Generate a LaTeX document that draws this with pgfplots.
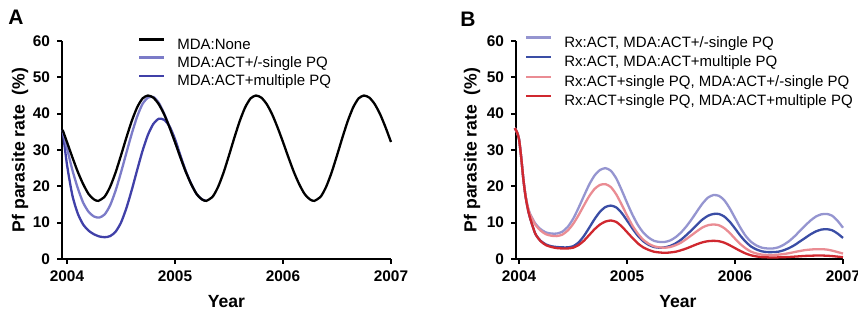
\documentclass[border=0pt]{standalone}
\usepackage{fontspec}
\setmainfont{Liberation Sans}
\usepackage{pgfplots}
\pgfplotsset{compat=1.18}
\definecolor{aLight}{HTML}{7B7BC8}
\definecolor{aDark}{HTML}{4040A8}
\definecolor{bLav}{HTML}{9595D0}
\definecolor{bBlue}{HTML}{3A4DA5}
\definecolor{bPink}{HTML}{EA8C93}
\definecolor{bRed}{HTML}{D0282F}
\pgfplotsset{gp/.style={
  scale only axis, axis lines*=left, axis line style={-, black, line width=0.9pt},
  xmax=2007, ymin=0, ymax=60,
  xtick={2004,2005,2006,2007}, xticklabels={2004,2005,2006,2007},
  ytick={0,10,...,60}, yticklabels={0,10,20,30,40,50,60},
  tick align=outside, major tick length=2.5pt,
  every tick/.style={black, line width=0.9pt},
  /pgf/number format/assume math mode=true,
  ticklabel style={font=\bfseries\fontsize{7.7}{8}\selectfont},
  label style={font=\bfseries\fontsize{8.8}{10}\selectfont},
  xlabel={Year}, ylabel={Pf parasite rate\ \ (\%)},
  clip=false, no markers,
  every axis plot/.append style={line width=1.15pt, smooth, tension=0.4},
  legend cell align=left,
  legend image code/.code={\draw[#1, line width=1.15pt] (0pt,2.6pt) -- (12.5pt,2.6pt);},
  legend style={draw=none, fill=none, inner sep=0pt, outer sep=0pt,
    font=\fontsize{7.5}{9}\selectfont,
    nodes={inner sep=0pt, text height=5.8pt, text depth=1.5pt},
    /tikz/every odd column/.style={column sep=6pt}},
}}
\begin{document}
\begin{tikzpicture}
\useasboundingbox (0,0) rectangle (429pt,157pt);
\node[font=\bfseries\fontsize{10.5}{12}\selectfont] at (8pt,148.5pt) {A};
\node[font=\bfseries\fontsize{10.5}{12}\selectfont] at (234pt,147.5pt) {B};
\begin{axis}[gp, at={(31pt,27.5pt)}, anchor=south west,
  width=164.5pt, height=109pt, xmin=2003.954,
  xlabel style={at={(axis description cs:0.5,-0.197)}, anchor=center},
  ylabel style={at={(axis description cs:-0.1277,0.5)}, anchor=center},
  legend style={at={(rel axis cs:0.231,1.0165)}, anchor=north west, row sep=1.75pt}]
\addlegendimage{black}\addlegendentry{MDA:None}
\addlegendimage{aLight}\addlegendentry{MDA:ACT+/-single PQ}
\addlegendimage{aDark}\addlegendentry{MDA:ACT+multiple PQ}
% MDA:ACT+multiple PQ
\addplot[aDark, forget plot] coordinates {(2003.96,35.5)(2004.00,26.0)(2004.05,17.5)(2004.10,12.5)(2004.15,9.5)(2004.20,7.8)(2004.25,6.8)(2004.30,6.2)(2004.35,6.0)(2004.40,6.3)(2004.45,7.5)(2004.50,10.0)(2004.55,14.0)(2004.60,19.0)(2004.65,24.5)(2004.70,29.8)(2004.75,34.2)(2004.80,37.2)(2004.85,38.6)(2004.90,38.3)(2004.95,36.5)(2005.00,33.0)(2005.05,28.5)(2005.10,24.2)(2005.15,20.7)(2005.20,17.9)(2005.25,16.4)(2005.29,16.0)};
% MDA:ACT+/-single PQ
\addplot[aLight, forget plot] coordinates {(2003.96,35.5)(2004.00,30.5)(2004.05,24.5)(2004.10,19.5)(2004.15,15.5)(2004.20,13.0)(2004.25,11.7)(2004.30,11.4)(2004.35,12.3)(2004.40,14.8)(2004.45,18.8)(2004.50,23.8)(2004.55,29.2)(2004.60,34.5)(2004.65,39.2)(2004.70,42.7)(2004.75,44.4)(2004.80,44.6)(2004.85,43.0)(2004.90,40.0)(2004.95,36.3)(2005.00,32.2)(2005.05,28.0)(2005.10,24.0)};
% MDA:None
\addplot[black, forget plot] coordinates {(2003.96,35.5)
(2004.00,32.2)(2004.05,28.0)(2004.10,24.0)(2004.15,20.6)(2004.20,17.9)(2004.25,16.4)(2004.29,16.0)(2004.35,17.2)(2004.40,19.9)(2004.45,23.8)(2004.50,28.5)(2004.55,33.4)(2004.60,38.0)(2004.65,41.75)(2004.70,44.2)(2004.75,45.0)(2004.80,44.4)(2004.85,42.6)(2004.90,39.8)(2004.95,36.2)
(2005.00,32.2)(2005.05,28.0)(2005.10,24.0)(2005.15,20.6)(2005.20,17.9)(2005.25,16.4)(2005.29,16.0)(2005.35,17.2)(2005.40,19.9)(2005.45,23.8)(2005.50,28.5)(2005.55,33.4)(2005.60,38.0)(2005.65,41.75)(2005.70,44.2)(2005.75,45.0)(2005.80,44.4)(2005.85,42.6)(2005.90,39.8)(2005.95,36.2)
(2006.00,32.2)(2006.05,28.0)(2006.10,24.0)(2006.15,20.6)(2006.20,17.9)(2006.25,16.4)(2006.29,16.0)(2006.35,17.2)(2006.40,19.9)(2006.45,23.8)(2006.50,28.5)(2006.55,33.4)(2006.60,38.0)(2006.65,41.75)(2006.70,44.2)(2006.75,45.0)(2006.80,44.4)(2006.85,42.6)(2006.90,39.8)(2006.95,36.2)
(2007.00,32.2)};
\end{axis}
\begin{axis}[gp, at={(258pt,27.5pt)}, anchor=south west,
  width=163.5pt, height=109pt, xmin=2003.972,
  xlabel style={at={(axis description cs:0.495,-0.197)}, anchor=center},
  ylabel style={at={(axis description cs:-0.1346,0.5)}, anchor=center},
  legend style={at={(rel axis cs:0.0275,1.0257)}, anchor=north west, row sep=2.5pt}]
\addplot[bLav] coordinates {(2003.96,36)(2003.98,35)(2004.00,33)(2004.02,28)(2004.04,22)(2004.06,17.5)(2004.08,14.5)(2004.10,12.6)(2004.15,9.8)(2004.20,8.2)(2004.25,7.3)(2004.30,7.0)(2004.35,7.0)(2004.40,7.5)(2004.45,8.8)(2004.50,11.0)(2004.55,14.0)(2004.60,17.3)(2004.65,20.5)(2004.70,23.0)(2004.75,24.5)(2004.80,25.0)(2004.85,24.3)(2004.90,22.2)(2004.95,19.0)(2005.00,15.5)(2005.05,12.2)(2005.10,9.4)(2005.15,7.3)(2005.20,5.9)(2005.25,5.0)(2005.30,4.7)(2005.35,4.7)(2005.40,5.1)(2005.45,6.0)(2005.50,7.3)(2005.55,9.0)(2005.60,11.0)(2005.65,13.2)(2005.70,15.3)(2005.75,16.9)(2005.80,17.6)(2005.85,17.4)(2005.90,16.2)(2005.95,14.0)(2006.00,11.3)(2006.05,8.6)(2006.10,6.3)(2006.15,4.7)(2006.20,3.7)(2006.25,3.1)(2006.30,2.9)(2006.35,2.9)(2006.40,3.2)(2006.45,3.9)(2006.50,4.9)(2006.55,6.2)(2006.60,7.7)(2006.65,9.2)(2006.70,10.6)(2006.75,11.7)(2006.80,12.3)(2006.85,12.4)(2006.90,11.9)(2006.95,10.5)(2007.00,8.6)};
\addlegendentry{Rx:ACT, MDA:ACT+/-single PQ}
\addplot[bBlue] coordinates {(2003.96,36)(2003.98,35)(2004.00,33)(2004.02,28)(2004.04,22)(2004.06,17.3)(2004.08,14.0)(2004.10,11.5)(2004.15,7.0)(2004.20,5.0)(2004.25,4.0)(2004.30,3.5)(2004.35,3.3)(2004.40,3.2)(2004.45,3.2)(2004.50,3.5)(2004.55,4.5)(2004.60,6.3)(2004.65,8.6)(2004.70,11.0)(2004.75,13.0)(2004.80,14.3)(2004.85,14.7)(2004.90,14.2)(2004.95,12.7)(2005.00,10.6)(2005.05,8.4)(2005.10,6.4)(2005.15,4.9)(2005.20,3.9)(2005.25,3.3)(2005.30,3.1)(2005.35,3.2)(2005.40,3.6)(2005.45,4.3)(2005.50,5.3)(2005.55,6.6)(2005.60,8.0)(2005.65,9.5)(2005.70,10.9)(2005.75,11.9)(2005.80,12.4)(2005.85,12.4)(2005.90,11.7)(2005.95,10.3)(2006.00,8.4)(2006.05,6.4)(2006.10,4.7)(2006.15,3.4)(2006.20,2.6)(2006.25,2.1)(2006.30,1.9)(2006.35,1.9)(2006.40,2.0)(2006.45,2.4)(2006.50,3.0)(2006.55,3.8)(2006.60,4.8)(2006.65,5.8)(2006.70,6.8)(2006.75,7.6)(2006.80,8.1)(2006.85,8.2)(2006.90,7.9)(2006.95,7.0)(2007.00,5.8)};
\addlegendentry{Rx:ACT, MDA:ACT+multiple PQ}
\addplot[bPink] coordinates {(2003.96,36)(2003.98,35)(2004.00,33)(2004.02,28)(2004.04,22)(2004.06,17.5)(2004.08,14.4)(2004.10,12.4)(2004.15,9.5)(2004.20,7.8)(2004.25,6.8)(2004.30,6.4)(2004.35,6.3)(2004.40,6.7)(2004.45,7.8)(2004.50,9.6)(2004.55,12.0)(2004.60,14.7)(2004.65,17.3)(2004.70,19.3)(2004.75,20.4)(2004.80,20.6)(2004.85,19.8)(2004.90,17.8)(2004.95,15.0)(2005.00,12.0)(2005.05,9.2)(2005.10,7.0)(2005.15,5.3)(2005.20,4.2)(2005.25,3.5)(2005.30,3.2)(2005.35,3.1)(2005.40,3.3)(2005.45,3.8)(2005.50,4.5)(2005.55,5.5)(2005.60,6.6)(2005.65,7.7)(2005.70,8.7)(2005.75,9.3)(2005.80,9.5)(2005.85,9.3)(2005.90,8.5)(2005.95,7.2)(2006.00,5.6)(2006.05,4.1)(2006.10,2.9)(2006.15,2.0)(2006.20,1.5)(2006.25,1.2)(2006.30,1.1)(2006.35,1.1)(2006.40,1.2)(2006.45,1.35)(2006.50,1.6)(2006.55,1.9)(2006.60,2.2)(2006.65,2.45)(2006.70,2.6)(2006.75,2.7)(2006.80,2.7)(2006.85,2.6)(2006.90,2.3)(2006.95,1.9)(2007.00,1.5)};
\addlegendentry{Rx:ACT+single PQ, MDA:ACT+/-single PQ}
\addplot[bRed] coordinates {(2003.96,36)(2003.98,35)(2004.00,33)(2004.02,28)(2004.04,22)(2004.06,17.3)(2004.08,14.0)(2004.10,11.5)(2004.15,7.0)(2004.20,4.9)(2004.25,3.8)(2004.30,3.3)(2004.35,3.0)(2004.40,2.9)(2004.45,2.9)(2004.50,3.1)(2004.55,3.8)(2004.60,5.0)(2004.65,6.6)(2004.70,8.2)(2004.75,9.5)(2004.80,10.3)(2004.85,10.6)(2004.90,10.2)(2004.95,9.0)(2005.00,7.4)(2005.05,5.8)(2005.10,4.3)(2005.15,3.2)(2005.20,2.5)(2005.25,2.0)(2005.30,1.8)(2005.35,1.7)(2005.40,1.8)(2005.45,2.0)(2005.50,2.4)(2005.55,2.9)(2005.60,3.5)(2005.65,4.1)(2005.70,4.6)(2005.75,4.9)(2005.80,5.0)(2005.85,4.9)(2005.90,4.5)(2005.95,3.8)(2006.00,3.0)(2006.05,2.2)(2006.10,1.5)(2006.15,1.0)(2006.20,0.7)(2006.25,0.5)(2006.30,0.45)(2006.35,0.4)(2006.40,0.45)(2006.45,0.5)(2006.50,0.55)(2006.55,0.65)(2006.60,0.75)(2006.65,0.85)(2006.70,0.9)(2006.75,0.95)(2006.80,0.95)(2006.85,0.9)(2006.90,0.8)(2006.95,0.65)(2007.00,0.5)};
\addlegendentry{Rx:ACT+single PQ, MDA:ACT+multiple PQ}
\end{axis}
\end{tikzpicture}
\end{document}
